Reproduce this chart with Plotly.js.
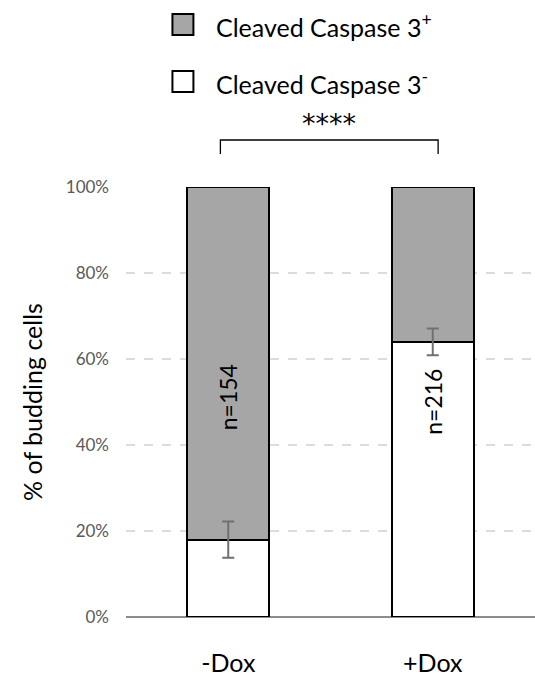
<!DOCTYPE html>
<html><head><meta charset="utf-8">
<script src="https://cdn.plot.ly/plotly-3.0.1.min.js"></script>
<style>html,body{margin:0;padding:0;background:#fff;}#chart{width:535px;height:678px;}</style>
</head><body><div id="chart"></div>
<script>
const categories = ['-Dox', '+Dox'];
const negValues = [18, 64];
const negErrors = [4.2, 3.1];
const posValues = [82, 36];
const nLabels = ['n=154', 'n=216'];
const yTickVals = [0, 20, 40, 60, 80, 100];
const yTickText = ['0%', '20%', '40%', '60%', '80%', '100%'];
const legendLabels = ['Cleaved Caspase 3<sup>+</sup>', 'Cleaved Caspase 3<sup>-</sup>'];
const sigLabel = '****';

const FONT = 'Lato';

const W = 535 - 125.5, H = 617 - 187;
function px2paperX(px){ return (px - 125.5) / W; }
function px2paperY(py){ return (617 - py) / H; }

const traces = [
  {type:'bar', x:categories, y:negValues, name:'neg', width:0.4,
   marker:{color:'#ffffff', line:{color:'#000000', width:2}},
   showlegend:false, hoverinfo:'none'},
  {type:'bar', x:categories, y:posValues, name:'pos', width:0.4,
   marker:{color:'#a6a6a6', line:{color:'#000000', width:2}},
   showlegend:false, hoverinfo:'none'},
  {type:'scatter', mode:'markers', x:categories, y:negValues, marker:{size:1, opacity:0},
   error_y:{type:'data', array:negErrors, visible:true, color:'#707070', thickness:2, width:6},
   showlegend:false, hoverinfo:'none'}
];

const annotations = categories.map((c, i) => ({
  x:c, y:50, xref:'x', yref:'y', yshift:[5, 0][i], text:nLabels[i], textangle:-90, showarrow:false,
  font:{family:FONT, size:23, color:'#000'}
}));
annotations.push({x:px2paperX(329), y:px2paperY(106), xref:'paper', yref:'paper', text:sigLabel,
  showarrow:false, font:{family:'DejaVu Sans', size:27, color:'#000'}});
legendLabels.forEach((t, i) => {
  annotations.push({x:px2paperX(214), y:px2paperY([26, 82][i]), xref:'paper', yref:'paper',
    xanchor:'left', yanchor:'middle', text:t, showarrow:false,
    font:{family:FONT, size:25, color:'#000'}});
});

const shapes = [
  {type:'rect', xref:'paper', yref:'paper', x0:px2paperX(172), x1:px2paperX(193), y0:px2paperY(35), y1:px2paperY(14),
   fillcolor:'#a6a6a6', line:{color:'#000', width:2}},
  {type:'rect', xref:'paper', yref:'paper', x0:px2paperX(172), x1:px2paperX(193), y0:px2paperY(92), y1:px2paperY(71),
   fillcolor:'#ffffff', line:{color:'#000', width:2}},
  {type:'path', xref:'paper', yref:'paper',
   path:`M ${px2paperX(220)} ${px2paperY(154)} L ${px2paperX(220)} ${px2paperY(140)} L ${px2paperX(438)} ${px2paperY(140)} L ${px2paperX(438)} ${px2paperY(154)}`,
   line:{color:'#000', width:1.3}}
];

const layout = {
  width:535, height:678,
  margin:{l:125.5, r:0, t:187, b:61, pad:0},
  paper_bgcolor:'#fff', plot_bgcolor:'#fff',
  barmode:'stack',
  font:{family:FONT},
  xaxis:{range:[-0.5, 1.5], showgrid:false, zeroline:false, showline:false, ticks:'',
    tickfont:{family:FONT, size:25, color:'#000'}, ticklabelstandoff:29},
  yaxis:{range:[0, 100], tickmode:'array', tickvals:yTickVals, ticktext:yTickText, showgrid:true,
    gridcolor:'#dcdcdc', griddash:'dash', gridwidth:1.3, zeroline:true, zerolinecolor:'#8c8c8c', zerolinewidth:1.5,
    showline:false, ticks:'', tickfont:{family:FONT, size:17, color:'#595959'}, ticklabelstandoff:16,
    title:{text:'% of budding cells', font:{family:FONT, size:25, color:'#000'}, standoff:16}},
  shapes:shapes, annotations:annotations
};
Plotly.newPlot('chart', traces, layout, {displayModeBar:false, staticPlot:true});
</script></body></html>
